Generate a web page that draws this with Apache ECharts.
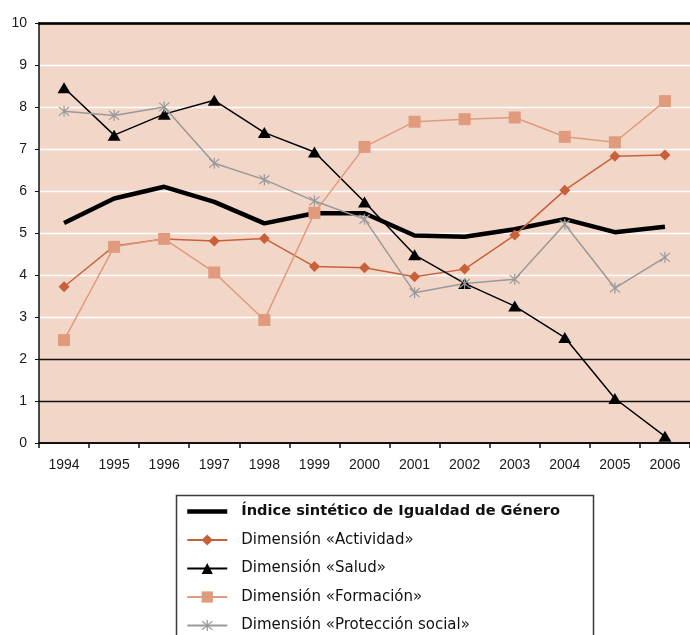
<!DOCTYPE html>
<html>
<head>
<meta charset="utf-8">
<script src="https://cdn.jsdelivr.net/npm/echarts@6/dist/echarts.min.js"></script>
<style>
html,body{margin:0;padding:0;background:#fff;}
#chart{width:690px;height:635px;}
</style>
</head>
<body>
<div id="chart"></div>
<script>
const years = ['1994','1995','1996','1997','1998','1999','2000','2001','2002','2003','2004','2005','2006'];
const yTicks = [0,1,2,3,4,5,6,7,8,9,10];
const indice = [5.24,5.82,6.10,5.74,5.23,5.47,5.47,4.94,4.91,5.09,5.33,5.02,5.15];
const actividad = [3.72,4.69,4.86,4.81,4.87,4.20,4.17,3.96,4.14,4.95,6.02,6.83,6.86];
const salud = [8.46,7.33,7.83,8.16,7.39,6.93,5.74,4.48,3.80,3.26,2.51,1.06,0.16];
const formacion = [2.45,4.67,4.86,4.06,2.93,5.48,7.05,7.65,7.71,7.75,7.29,7.16,8.14];
const proteccion = [7.90,7.80,8.00,6.66,6.27,5.76,5.33,3.58,3.80,3.90,5.21,3.69,4.42];
const names = ['Índice sintético de Igualdad de Género','Dimensión «Actividad»','Dimensión «Salud»','Dimensión «Formación»','Dimensión «Protección social»'];

const starPath = 'path://M9,0 L11,0 L11,20 L9,20 Z M2.7,1.3 L18.7,17.3 L17.3,18.7 L1.3,2.7 Z M17.3,1.3 L18.7,2.7 L2.7,18.7 L1.3,17.3 Z';
const font = 'Liberation Sans, Arial, sans-serif';
const legendFont = 'DejaVu Sans';

const chart = echarts.init(document.getElementById('chart'), null, {renderer:'canvas'});
const splitColors = yTicks.map(v => (v === 1 || v === 2 || v === 10) ? '#111111' : '#ffffff');

chart.setOption({
  animation: false,
  textStyle: {fontFamily: font},
  grid: {left: 39, right: -9, top: 23, bottom: 192, show: true, backgroundColor: '#F2D7C9', borderWidth: 0},
  xAxis: [{
    type: 'category', data: years, boundaryGap: true,
    axisLine: {lineStyle: {color: '#111', width: 2}},
    axisTick: {show: true, length: 5, lineStyle: {color: '#111', width: 1.5}},
    axisLabel: {fontSize: 14, color: '#1a1a1a', margin: 15, fontFamily: font}
  }, {
    type: 'category', data: years, position: 'top',
    axisLine: {lineStyle: {color: '#000', width: 2.5}},
    axisTick: {show: false}, axisLabel: {show: false}
  }],
  yAxis: {
    type: 'value', min: 0, max: 10, interval: 1,
    axisLine: {show: true, lineStyle: {color: '#111', width: 1.5}},
    axisTick: {show: true, length: 4, lineStyle: {color: '#111'}},
    axisLabel: {fontSize: 14, color: '#1a1a1a', margin: 12, fontFamily: font},
    splitLine: {show: true, lineStyle: {color: splitColors, width: 1.3}}
  },
  legend: {
    orient: 'vertical', left: 185, top: 504,
    itemWidth: 40, itemHeight: 14, itemGap: 13.5,
    padding: 0,
    data: [
      {name: names[0], itemStyle: {opacity: 0}, lineStyle: {width: 4.5, color: '#000'},
       textStyle: {fontWeight: 'bold', fontSize: 14.6, fontFamily: legendFont, color: '#111'}},
      names[1], names[2], names[3], names[4]
    ],
    textStyle: {fontSize: 15, color: '#111', fontFamily: legendFont, padding: [0,0,0,9]},
    selectedMode: false
  },
  graphic: [{
    type: 'rect', left: 174, top: 493, silent: true,
    shape: {width: 417, height: 160},
    style: {fill: 'none', stroke: '#3a3a3a', lineWidth: 1.5}
  }],
  series: [
    {name: names[0], type: 'line', data: indice, symbol: 'none',
     lineStyle: {color: '#000', width: 4.5}, itemStyle: {color: '#000'}},
    {name: names[1], type: 'line', data: actividad, symbol: 'diamond', symbolSize: 11,
     lineStyle: {color: '#C8603A', width: 1.5}, itemStyle: {color: '#C8603A'}},
    {name: names[2], type: 'line', data: salud, symbol: 'triangle', symbolSize: [13,11],
     lineStyle: {color: '#000', width: 1.5}, itemStyle: {color: '#000'}},
    {name: names[3], type: 'line', data: formacion, symbol: 'rect', symbolSize: 12,
     lineStyle: {color: '#E09A7C', width: 1.5}, itemStyle: {color: '#E09A7C'}},
    {name: names[4], type: 'line', data: proteccion, symbol: starPath, symbolSize: 11,
     lineStyle: {color: '#999999', width: 1.5}, itemStyle: {color: '#999999'}}
  ]
});
</script>
</body>
</html>
